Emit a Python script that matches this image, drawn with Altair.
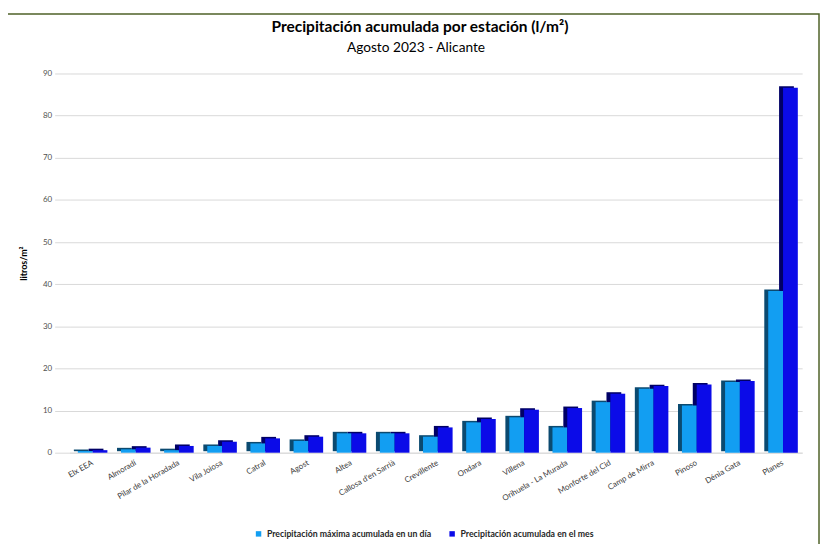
import altair as alt
import pandas as pd

titulo = "Precipitación acumulada por estación (l/m²)"
subtitulo = "Agosto 2023 - Alicante"
estaciones = ["Elx EEA", "Almoradí", "Pilar de la Horadada", "Vila Joiosa", "Catral",
              "Agost", "Altea", "Callosa d'en Sarrià", "Crevillente", "Ondara", "Villena",
              "Orihuela - La Murada", "Monforte del Cid", "Camp de Mirra", "Pinoso",
              "Dénia Gata", "Planes"]
max_dia = [0.4, 0.8, 0.6, 1.6, 2.2, 2.8, 4.6, 4.6, 3.8, 7.2, 8.4, 6.0, 12.0, 15.2, 11.2, 16.8, 38.4]
acum_mes = [0.6, 1.2, 1.6, 2.6, 3.4, 3.8, 4.6, 4.6, 6.0, 8.0, 10.2, 10.6, 14.0, 15.8, 16.2, 17.0, 86.6]
series = ["Precipitación máxima acumulada en un día", "Precipitación acumulada en el mes"]
colores = ["#129ef2", "#0b0be8"]
colores_lado = ["#0b4a70", "#000066"]
y_ticks = [0, 10, 20, 30, 40, 50, 60, 70, 80, 90]

rows = []
for e, a, b in zip(estaciones, max_dia, acum_mes):
    rows.append({"estacion": e, "serie": series[0], "valor": a})
    rows.append({"estacion": e, "serie": series[1], "valor": b})
df = pd.DataFrame(rows)

W, H = 738, 382
FONT = "Lato"

one = pd.DataFrame({"k": [0]})
border = alt.Chart(one).mark_rect(
    fillOpacity=0, stroke="#4f6228", strokeWidth=1.5, clip=False
).encode(x=alt.value(-63), x2=alt.value(755), y=alt.value(-60), y2=alt.value(530))

title_t = alt.Chart(one).mark_text(
    text=titulo, font=FONT, fontSize=15.6, fontWeight="bold", color="#000000",
    align="center", baseline="middle", clip=False
).encode(x=alt.value(353), y=alt.value(-47))

sub_t = alt.Chart(one).mark_text(
    text=subtitulo, font=FONT, fontSize=13.8, color="#000000",
    align="center", baseline="middle", clip=False
).encode(x=alt.value(349), y=alt.value(-26))

x_enc = alt.X("estacion:N", sort=estaciones,
              scale=alt.Scale(paddingInner=0.223, paddingOuter=0.1),
              axis=alt.Axis(title=None, labelAngle=-30, labelAlign="right", labelBaseline="top",
                            labelFontSize=8, labelColor="#404040", labelFont=FONT,
                            domain=True, domainColor="#d9d9d9", ticks=False, labelPadding=6))
y_enc = alt.Y("valor:Q", scale=alt.Scale(domain=[0, 90], nice=False),
              axis=alt.Axis(values=y_ticks, title="litros/m²", titleFont=FONT, titleFontSize=9,
                            titleFontWeight="bold", titleColor="#000000", titleAngle=-90,
                            titleX=-46, titleY=H / 2, titleAlign="center", titleBaseline="middle",
                            labelFont=FONT, labelFontSize=8, labelColor="#505050", labelPadding=3,
                            tickSize=15, tickColor="#d9d9d9", domain=False,
                            grid=True, gridColor="#d9d9d9", gridWidth=1))

side = alt.Chart(df).mark_bar(clip=False, yOffset=-1.5).encode(
    x=x_enc,
    xOffset=alt.XOffset("serie:N", sort=series,
                        scale=alt.Scale(paddingInner=0, paddingOuter=0.1333, align=0)),
    y=y_enc,
    color=alt.Color("serie:N", sort=series,
                    scale=alt.Scale(domain=series, range=colores_lado), legend=None),
)

bars = alt.Chart(df).mark_bar(clip=False).encode(
    x=x_enc,
    xOffset=alt.XOffset("serie:N", sort=series,
                        scale=alt.Scale(paddingInner=0, paddingOuter=0.1333, align=1)),
    y=y_enc,
    fill=alt.Fill("serie:N", sort=series,
                  scale=alt.Scale(domain=series, range=colores),
                  legend=alt.Legend(title=None, orient="none", direction="horizontal",
                                    legendX=186, legendY=459, symbolType="square",
                                    symbolSize=30, symbolStrokeWidth=0, labelLimit=400,
                                    labelFont=FONT, labelFontSize=8.8, labelFontWeight="bold",
                                    labelColor="#262626", columnPadding=16)),
)

chart = alt.layer(border, side, bars, title_t, sub_t).resolve_scale(
    color="independent", fill="independent", xOffset="independent"
).properties(
    width=W, height=H,
    autosize=alt.AutoSizeParams(type="none"),
    padding={"left": 62, "top": 64, "right": 18, "bottom": 90},
).configure_view(strokeWidth=0)

chart.save("out.html", embed_options={"renderer": "svg", "actions": False})
